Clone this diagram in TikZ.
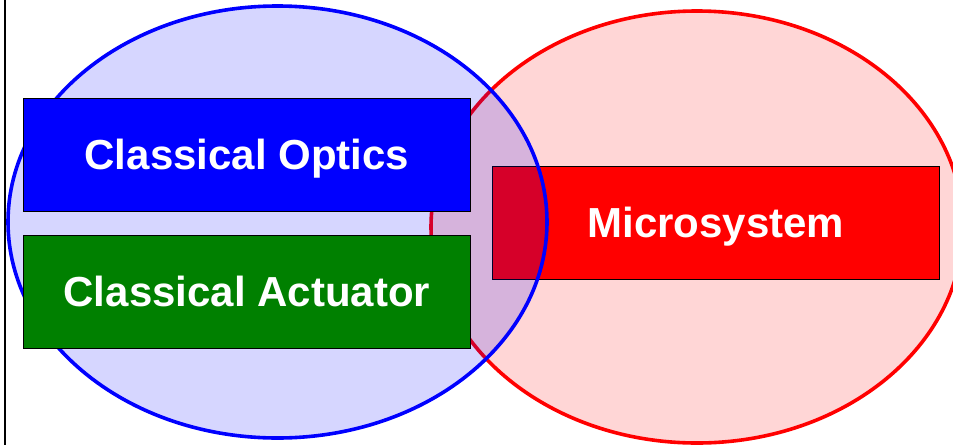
\documentclass[tikz,border=0pt]{standalone}
\usepackage{fontspec}
\setmainfont{Liberation Sans}
\definecolor{pgreen}{RGB}{0,128,0}
\begin{document}
\begin{tikzpicture}[x=1pt,y=-1pt,
  box/.style={draw=black, line width=0.8pt, minimum width=447pt, minimum height=113pt,
    inner sep=0pt, text=white, anchor=north west, text height=30pt, text depth=0pt,
    font=\fontsize{42}{50}\selectfont\bfseries},
  setfill/.style={opacity=0.16},
  setline/.style={line width=3.6pt}]
\useasboundingbox (0,0) rectangle (953,445);
\clip (0,0) rectangle (953,445);
\fill[white] (0,0) rectangle (953,445);
% red set
\coordinate (rc) at (697,227);
\fill[red, setfill] (rc) ellipse [x radius=266pt, y radius=216pt];
\draw[red, setline] (rc) ellipse [x radius=266pt, y radius=216pt];
\node[box, fill=red] (micro) at (492,166) {Microsystem};
% blue set
\coordinate (bc) at (277.5,222);
\fill[blue, setfill] (bc) ellipse [x radius=269.5pt, y radius=216pt];
\draw[blue, setline] (bc) ellipse [x radius=269.5pt, y radius=216pt];
\node[box, fill=blue] (optics) at (23,98) {Classical Optics};
\node[box, fill=pgreen] (act) at (23,235) {Classical Actuator};
% left border line
\coordinate (lt) at (5,0);
\coordinate (lb) at (5,445);
\draw[black, line width=2pt] (lt) -- (lb);
\end{tikzpicture}
\end{document}
